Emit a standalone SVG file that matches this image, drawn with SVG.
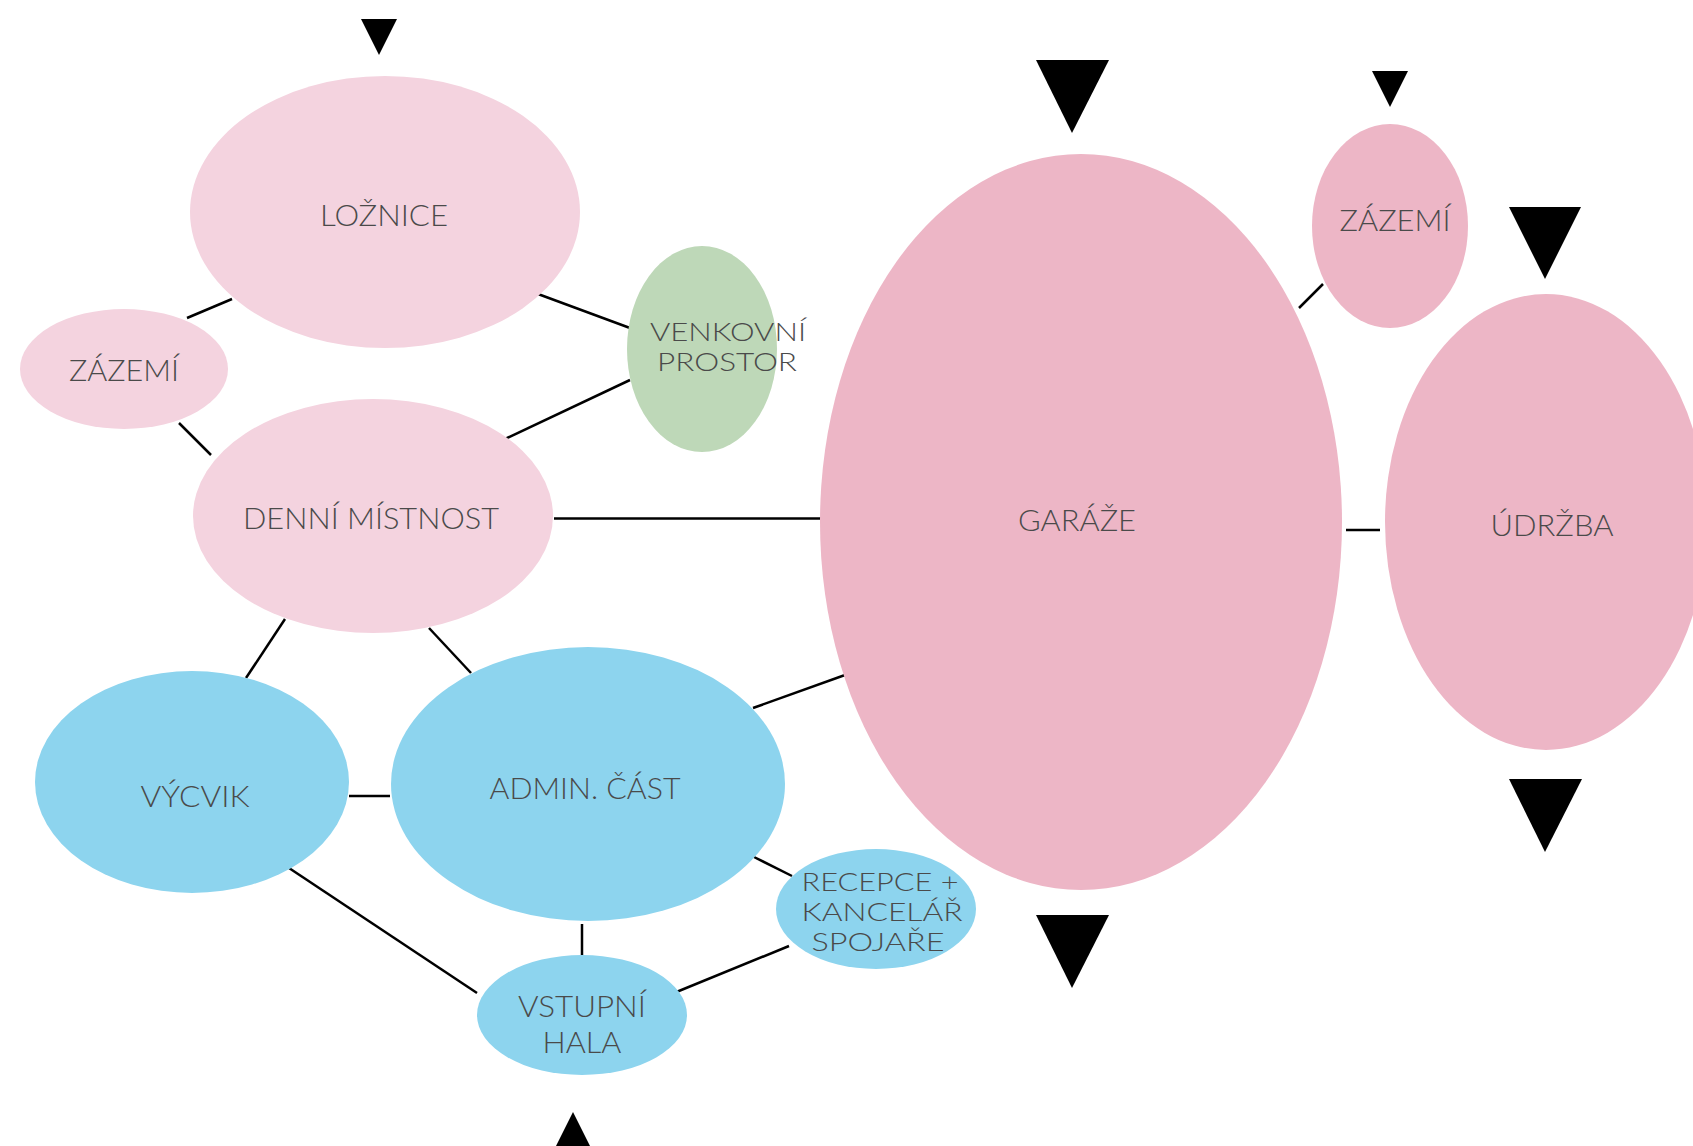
<svg xmlns="http://www.w3.org/2000/svg" width="1693" height="1146" viewBox="0 0 1693 1146">
<style>
.lp{fill:#f4d3df}
.mp{fill:#edb6c6}
.gr{fill:#bed8b8}
.bl{fill:#8dd4ee}
.t{font-family:"Lato","Liberation Sans",sans-serif;font-weight:300;font-size:29px;fill:#4a4a4a;text-anchor:middle}
.s{font-size:26px}
.c line{stroke:#000;stroke-width:2.5}
.tri{fill:#000}
</style>
<rect width="1693" height="1146" fill="#fff"/>
<g id="connectors" class="c">
<line x1="187" y1="318" x2="232" y2="299"/>
<line x1="538" y1="294" x2="630" y2="328"/>
<line x1="179" y1="423" x2="211" y2="455"/>
<line x1="505" y1="439" x2="630" y2="380"/>
<line x1="554" y1="518.5" x2="821" y2="518.5"/>
<line x1="285" y1="619" x2="246" y2="678"/>
<line x1="429" y1="628" x2="471" y2="673"/>
<line x1="753" y1="708" x2="845" y2="675"/>
<line x1="349" y1="796" x2="390" y2="796"/>
<line x1="754" y1="857" x2="792" y2="876"/>
<line x1="582" y1="924" x2="582" y2="956"/>
<line x1="289" y1="868" x2="477" y2="993"/>
<line x1="674" y1="993" x2="789" y2="946"/>
<line x1="1299" y1="308" x2="1323" y2="284"/>
<line x1="1346" y1="530" x2="1380" y2="530"/>
</g>
<g id="loznice"><ellipse class="lp" cx="385" cy="212" rx="195" ry="136"/><text class="t" x="384" y="226" textLength="128" lengthAdjust="spacingAndGlyphs">LOŽNICE</text></g>
<g id="zazemi1"><ellipse class="lp" cx="124" cy="369" rx="104" ry="60"/><text class="t" x="124" y="381" textLength="110" lengthAdjust="spacingAndGlyphs">ZÁZEMÍ</text></g>
<g id="venkovni"><ellipse class="gr" cx="702" cy="349" rx="75" ry="103"/><text class="t s" x="728" y="341" textLength="156" lengthAdjust="spacingAndGlyphs">VENKOVNÍ</text><text class="t s" x="727" y="371" textLength="140" lengthAdjust="spacingAndGlyphs">PROSTOR</text></g>
<g id="denni"><ellipse class="lp" cx="373" cy="516" rx="180" ry="117"/><text class="t" x="371" y="529" textLength="256" lengthAdjust="spacingAndGlyphs">DENNÍ MÍSTNOST</text></g>
<g id="garaze"><ellipse class="mp" cx="1081" cy="522" rx="261" ry="368"/><text class="t" x="1077" y="531" textLength="118" lengthAdjust="spacingAndGlyphs">GARÁŽE</text></g>
<g id="zazemi2"><ellipse class="mp" cx="1390" cy="226" rx="78" ry="102"/><text class="t" x="1395" y="231" textLength="111" lengthAdjust="spacingAndGlyphs">ZÁZEMÍ</text></g>
<g id="udrzba"><ellipse class="mp" cx="1546" cy="522" rx="161" ry="228"/><text class="t" x="1552" y="536" textLength="123" lengthAdjust="spacingAndGlyphs">ÚDRŽBA</text></g>
<g id="vycvik"><ellipse class="bl" cx="192" cy="782" rx="157" ry="111"/><text class="t" x="195" y="807" textLength="109" lengthAdjust="spacingAndGlyphs">VÝCVIK</text></g>
<g id="admin"><ellipse class="bl" cx="588" cy="784" rx="197" ry="137"/><text class="t" x="585" y="799" textLength="191" lengthAdjust="spacingAndGlyphs">ADMIN. ČÁST</text></g>
<g id="recepce"><ellipse class="bl" cx="876" cy="909" rx="100" ry="60"/><text class="t s" x="880" y="891" textLength="157" lengthAdjust="spacingAndGlyphs">RECEPCE +</text><text class="t s" x="882" y="921" textLength="161" lengthAdjust="spacingAndGlyphs">KANCELÁŘ</text><text class="t s" x="878" y="951" textLength="133" lengthAdjust="spacingAndGlyphs">SPOJAŘE</text></g>
<g id="vstupni"><ellipse class="bl" cx="582" cy="1015" rx="105" ry="60"/><text class="t" x="582" y="1017" textLength="128" lengthAdjust="spacingAndGlyphs">VSTUPNÍ</text><text class="t" x="582" y="1053" textLength="79" lengthAdjust="spacingAndGlyphs">HALA</text></g>
<g id="entrances" class="tri">
<polygon points="361,19 397,19 379,55"/>
<polygon points="1036,60 1109,60 1072,133"/>
<polygon points="1372,71 1408,71 1390,107"/>
<polygon points="1509,207 1581,207 1545,279"/>
<polygon points="1509,779 1582,779 1545,852"/>
<polygon points="1036,915 1109,915 1072,988"/>
<polygon points="573,1112 591,1148 555,1148"/>
</g>
</svg>
